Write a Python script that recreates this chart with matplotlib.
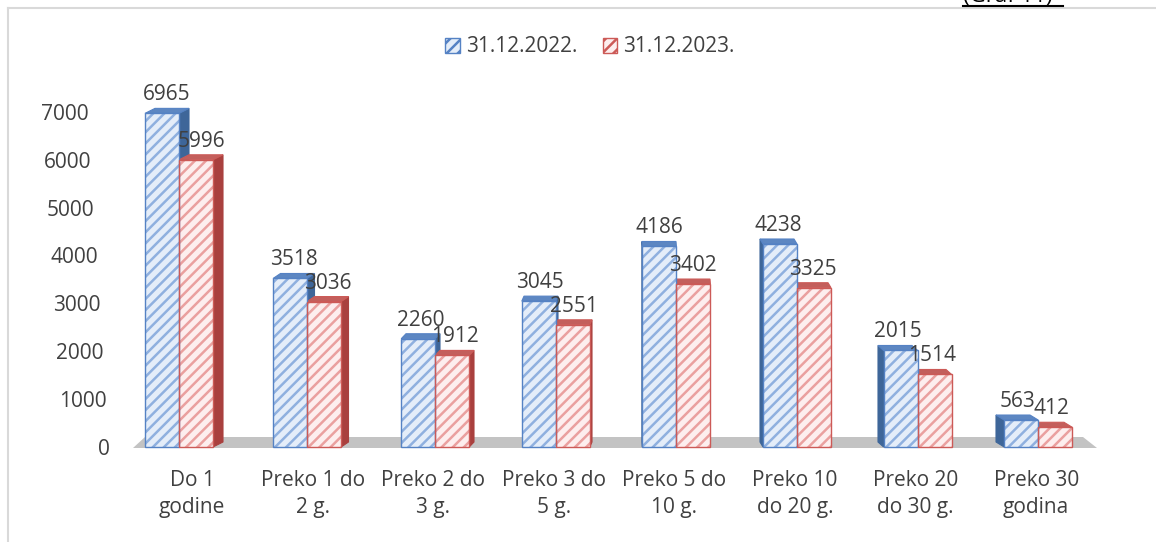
import matplotlib
matplotlib.use("Agg")
import matplotlib.pyplot as plt
from matplotlib.patches import Patch, Polygon
from matplotlib.lines import Line2D
from matplotlib.transforms import ScaledTranslation

# ---- data ----
categories = ["Do 1\ngodine", "Preko 1 do\n2 g.", "Preko 2 do\n3 g.", "Preko 3 do\n5 g.",
              "Preko 5 do\n10 g.", "Preko 10\ndo 20 g.", "Preko 20\ndo 30 g.", "Preko 30\ngodina"]
series_names = ["31.12.2022.", "31.12.2023."]
values_2022 = [6965, 3518, 2260, 3045, 4186, 4238, 2015, 563]
values_2023 = [5996, 3036, 1912, 2551, 3402, 3325, 1514, 412]
y_ticks = [0, 1000, 2000, 3000, 4000, 5000, 6000, 7000]

plt.rcParams['font.family'] = ['Open Sans', 'DejaVu Sans']
plt.rcParams['hatch.linewidth'] = 1.8
TXT = '#404040'
FS = 15

W, H = 1156, 542
fig = plt.figure(figsize=(W / 100, H / 100), dpi=100)

# pixel geometry
c0_px, step_px = 192.0, 120.6      # category 0 centre, spacing
base_px = 447.0                    # y pixel of value 0
vpp = 1 / 0.0479                   # value per pixel
ax_l, ax_r, ax_t, ax_b = 120, 1130, 60, 462
ax = fig.add_axes([ax_l / W, 1 - ax_b / H, (ax_r - ax_l) / W, (ax_b - ax_t) / H])
ax.set_xlim((ax_l - c0_px) / step_px, (ax_r - c0_px) / step_px)
ax.set_ylim(-(ax_b - base_px) * vpp, (base_px - ax_t) * vpp)
for s in ax.spines.values():
    s.set_visible(False)

ux = 1 / step_px   # data x units per pixel

# floor
floor = Polygon([((133 - c0_px) * ux, -1 * vpp), ((1097 - c0_px) * ux, -1 * vpp),
                 ((1083 - c0_px) * ux, 10 * vpp), ((145 - c0_px) * ux, 10 * vpp)],
                closed=True, facecolor='#c3c3c3', edgecolor='none', zorder=1)
ax.add_patch(floor)

styles = [
    dict(face='#e4edf9', hatch='#8fb0df', edge='#5582c4', side='#3e6699', top='#5d87c2', off=-32),
    dict(face='#fdeeee', hatch='#eaa09f', edge='#cc5a57', side='#a9403e', top='#c35f5c', off=2),
]
bw = 34 * ux
dy = 5 * vpp
for si, vals in enumerate([values_2022, values_2023]):
    st = styles[si]
    for i, v in enumerate(vals):
        dxp = 10 - 2.6 * i
        shift = -15 * max(0.0, 1 - i / 2)
        left = i + (st['off'] + shift) * ux
        right = left + bw
        dx = dxp * ux
        # side face
        sx = right if dx > 0 else left
        ax.add_patch(Polygon([(sx, 0), (sx, v), (sx + dx, v + dy), (sx + dx, dy)],
                             closed=True, facecolor=st['side'], edgecolor=st['side'],
                             lw=0.8, zorder=2 + si * 0.1))
        # top face
        ax.add_patch(Polygon([(left, v), (right, v), (right + dx, v + dy), (left + dx, v + dy)],
                             closed=True, facecolor=st['top'], edgecolor=st['edge'],
                             lw=0.8, zorder=2 + si * 0.1))
        # front face: hatched fill + outline
        ax.bar(left, v, width=bw, align='edge', facecolor=st['face'], edgecolor=st['hatch'],
               hatch='///', lw=0, zorder=3)
        ax.bar(left, v, width=bw, align='edge', facecolor='none', edgecolor=st['edge'],
               lw=1.0, zorder=3.5)
        ax.text((left + right) / 2 + dx / 2, v + 13 * vpp, str(v), ha='center', va='baseline',
                fontsize=FS, color=TXT, zorder=5)

# axes ticks
ax.set_xticks(range(len(categories)))
ax.set_xticklabels(categories, fontsize=FS, color=TXT, linespacing=1.35)
ax.set_yticks(y_ticks)
ax.set_yticklabels([str(t) for t in y_ticks], fontsize=FS, color=TXT)
ax.tick_params(axis='both', length=0)
ax.tick_params(axis='y', pad=7)
ax.tick_params(axis='x', pad=6)
for t, lbl in zip(y_ticks, ax.get_yticklabels()):
    off = -22 * t / 7000 / 100
    lbl.set_transform(lbl.get_transform() + ScaledTranslation(off, 0, fig.dpi_scale_trans))

# legend
handles = [Patch(facecolor=styles[k]['face'], edgecolor=styles[k]['edge'], hatch='///', lw=1.0)
           for k in range(2)]
fig.legend(handles, series_names, loc='center', bbox_to_anchor=(590 / W, 1 - 47 / H),
           ncol=2, frameon=False, fontsize=FS, labelcolor=TXT, handlelength=0.7,
           handleheight=0.7, handletextpad=0.3, columnspacing=1.2)

# border lines
fig.add_artist(Line2D([8 / W, 1], [1 - 8 / H, 1 - 8 / H], transform=fig.transFigure,
                      color='#d9d9d9', lw=1.5))
fig.add_artist(Line2D([8 / W, 8 / W], [0, 1 - 8 / H], transform=fig.transFigure,
                      color='#d9d9d9', lw=1.5))

# cut-off caption
fig.text(963 / W, 1 - 2 / H, "(Graf 11)", ha='left', va='baseline', fontsize=16, color='black')
fig.add_artist(Line2D([963 / W, 1063 / W], [1 - 5.5 / H, 1 - 5.5 / H], transform=fig.transFigure,
                      color='black', lw=1.5))

fig.savefig("out.png", dpi=100, facecolor='white')
